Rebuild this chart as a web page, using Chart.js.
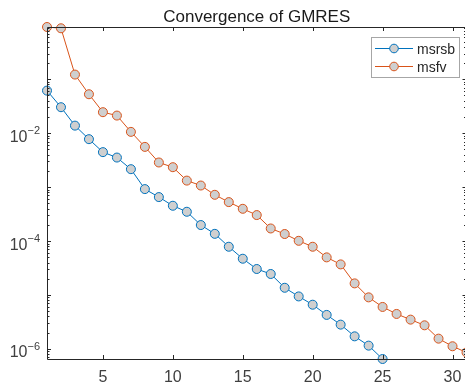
<!DOCTYPE html>
<html>
<head>
<meta charset="utf-8">
<title>Convergence of GMRES</title>
<script src="https://cdn.jsdelivr.net/npm/chart.js@4.4.1/dist/chart.umd.min.js"></script>
<style>
    html, body { margin: 0; padding: 0; background: #fff; overflow: hidden; }
    #wrap { position: relative; width: 472px; height: 384px; }
</style>
</head>
<body>
<div id="wrap"><canvas id="gmresChart"></canvas></div>
<script>
    // residual history per iteration
    const iterMsrsb = [1, 2, 3, 4, 5, 6, 7, 8, 9, 10, 11, 12, 13, 14, 15, 16, 17, 18, 19, 20, 21, 22, 23, 24, 25];
    const resMsrsb = [0.0615, 0.0303, 0.0138, 0.00774, 0.00445, 0.00353, 0.00215, 9.18e-4, 6.53e-4, 4.51e-4,
        3.49e-4, 1.98e-4, 1.36e-4, 7.84e-5, 4.7e-5, 3.03e-5, 2.45e-5, 1.36e-5, 9.4e-6, 6.6e-6,
        4.27e-6, 2.82e-6, 1.71e-6, 1.15e-6, 6.5e-7];

    const iterMsfv = [1, 2, 3, 4, 5, 6, 7, 8, 9, 10, 11, 12, 13, 14, 15, 16, 17, 18, 19, 20, 21, 22, 23, 24, 25, 26, 27, 28, 29, 30, 31];
    const resMsfv = [0.93, 0.88, 0.122, 0.0527, 0.0245, 0.0212, 0.01057, 0.00557, 0.00286, 0.00234,
        0.00132, 0.00107, 7.2e-4, 5.27e-4, 3.96e-4, 3.03e-4, 1.71e-4, 1.35e-4, 1.01e-4, 7.84e-5,
        4.98e-5, 3.69e-5, 1.64e-5, 9.03e-6, 6.0e-6, 4.45e-6, 3.49e-6, 2.74e-6, 1.55e-6, 1.12e-6, 8.6e-7];

    const xTicks = [5, 10, 15, 20, 25, 30];
    const yLabelExps = [-2, -4, -6];

    const BLUE = '#0072BD';
    const ORANGE = '#D95319';
    const MARKER_FILL = '#cfcfcf';
    const AXIS = '#262626';
    const LABEL = '#404040';
    const FONT = '"Liberation Sans", Arial, Helvetica, sans-serif';

    function toPoints(xs, ys) {
        return xs.map((x, i) => ({ x: x, y: ys[i] }));
    }

    // axes box, inward ticks, labels, title and legend in MATLAB style
    const matlabAxes = {
        id: 'matlabAxes',
        afterDatasetsDraw(chart) {
            const ctx = chart.ctx;
            const area = chart.chartArea;
            const xs = chart.scales.x;
            const ys = chart.scales.y;

            ctx.save();
            ctx.strokeStyle = AXIS;
            ctx.lineWidth = 1;
            ctx.beginPath();
            ctx.rect(Math.round(area.left) + 0.5, Math.round(area.top) + 0.5,
                Math.round(area.right - area.left), Math.round(area.bottom - area.top));
            ctx.stroke();

            // x ticks, bottom and top
            ctx.beginPath();
            xTicks.forEach(v => {
                const px = Math.round(xs.getPixelForValue(v)) + 0.5;
                ctx.moveTo(px, area.bottom);
                ctx.lineTo(px, area.bottom - 4);
                ctx.moveTo(px, area.top);
                ctx.lineTo(px, area.top + 4);
            });

            // y ticks, log decades with minor ticks
            for (let e = -7; e <= 0; e++) {
                for (let m = 1; m <= 9; m++) {
                    const v = m * Math.pow(10, e);
                    if (v < ys.min || v > ys.max) continue;
                    const py = Math.round(ys.getPixelForValue(v)) + 0.5;
                    const len = m === 1 ? 4 : 2.5;
                    ctx.moveTo(area.left, py);
                    ctx.lineTo(area.left + len, py);
                    ctx.moveTo(area.right, py);
                    ctx.lineTo(area.right - len, py);
                }
            }
            ctx.stroke();

            // tick labels
            ctx.fillStyle = LABEL;
            ctx.font = '16px ' + FONT;
            ctx.textAlign = 'center';
            ctx.textBaseline = 'alphabetic';
            xTicks.forEach(v => {
                ctx.fillText(String(v), xs.getPixelForValue(v), area.bottom + 22.5);
            });

            yLabelExps.forEach(e => {
                const py = ys.getPixelForValue(Math.pow(10, e));
                const exp = '\u2212' + Math.abs(e);
                ctx.font = '11px ' + FONT;
                const expW = ctx.measureText(exp).width;
                const right = area.left - 7;
                ctx.textAlign = 'left';
                ctx.fillText(exp, right - expW, py + 1);
                ctx.font = '16px ' + FONT;
                ctx.textAlign = 'right';
                ctx.fillText('10', right - expW, py + 8.5);
            });

            // title
            ctx.font = '17px ' + FONT;
            ctx.textAlign = 'center';
            ctx.fillStyle = '#1a1a1a';
            ctx.fillText('Convergence of GMRES', (area.left + area.right) / 2, 21.5);

            // legend box
            const lx = 371.5, ly = 37.5, lw = 88, lh = 40;
            ctx.fillStyle = '#fff';
            ctx.fillRect(lx, ly, lw, lh);
            ctx.strokeStyle = '#a6a6a6';
            ctx.strokeRect(lx, ly, lw, lh);

            const entries = [
                { label: 'msrsb', color: BLUE, y: 48.5 },
                { label: 'msfv', color: ORANGE, y: 66.5 }
            ];
            entries.forEach(en => {
                ctx.strokeStyle = en.color;
                ctx.lineWidth = 1.2;
                ctx.beginPath();
                ctx.moveTo(375, en.y);
                ctx.lineTo(413, en.y);
                ctx.stroke();
                ctx.beginPath();
                ctx.arc(394, en.y, 4.3, 0, Math.PI * 2);
                ctx.fillStyle = MARKER_FILL;
                ctx.fill();
                ctx.lineWidth = 1;
                ctx.stroke();
                ctx.fillStyle = AXIS;
                ctx.font = '14px ' + FONT;
                ctx.textAlign = 'left';
                ctx.fillText(en.label, 417, en.y + 5);
            });
            ctx.restore();
        }
    };

    function seriesDataset(label, xs, ys, color) {
        return {
            label: label,
            data: toPoints(xs, ys),
            borderColor: color,
            borderWidth: 1,
            backgroundColor: MARKER_FILL,
            pointBackgroundColor: MARKER_FILL,
            pointBorderColor: color,
            pointBorderWidth: 1,
            pointRadius: 4.5,
            tension: 0,
            clip: false
        };
    }

    new Chart(document.getElementById('gmresChart'), {
        type: 'line',
        data: {
            datasets: [
                seriesDataset('msrsb', iterMsrsb, resMsrsb, BLUE),
                seriesDataset('msfv', iterMsfv, resMsfv, ORANGE)
            ]
        },
        options: {
            responsive: true,
            maintainAspectRatio: false,
            animation: false,
            layout: { padding: { left: 47, top: 27, right: 5, bottom: 25 } },
            plugins: {
                legend: { display: false },
                title: { display: false },
                tooltip: { enabled: false }
            },
            scales: {
                x: { type: 'linear', display: false, min: 1, max: 31 },
                y: {
                    type: 'logarithmic',
                    display: false,
                    min: Math.min(...resMsrsb, ...resMsfv),
                    max: Math.max(...resMsrsb, ...resMsfv)
                }
            }
        },
        plugins: [matlabAxes]
    });
</script>
</body>
</html>
